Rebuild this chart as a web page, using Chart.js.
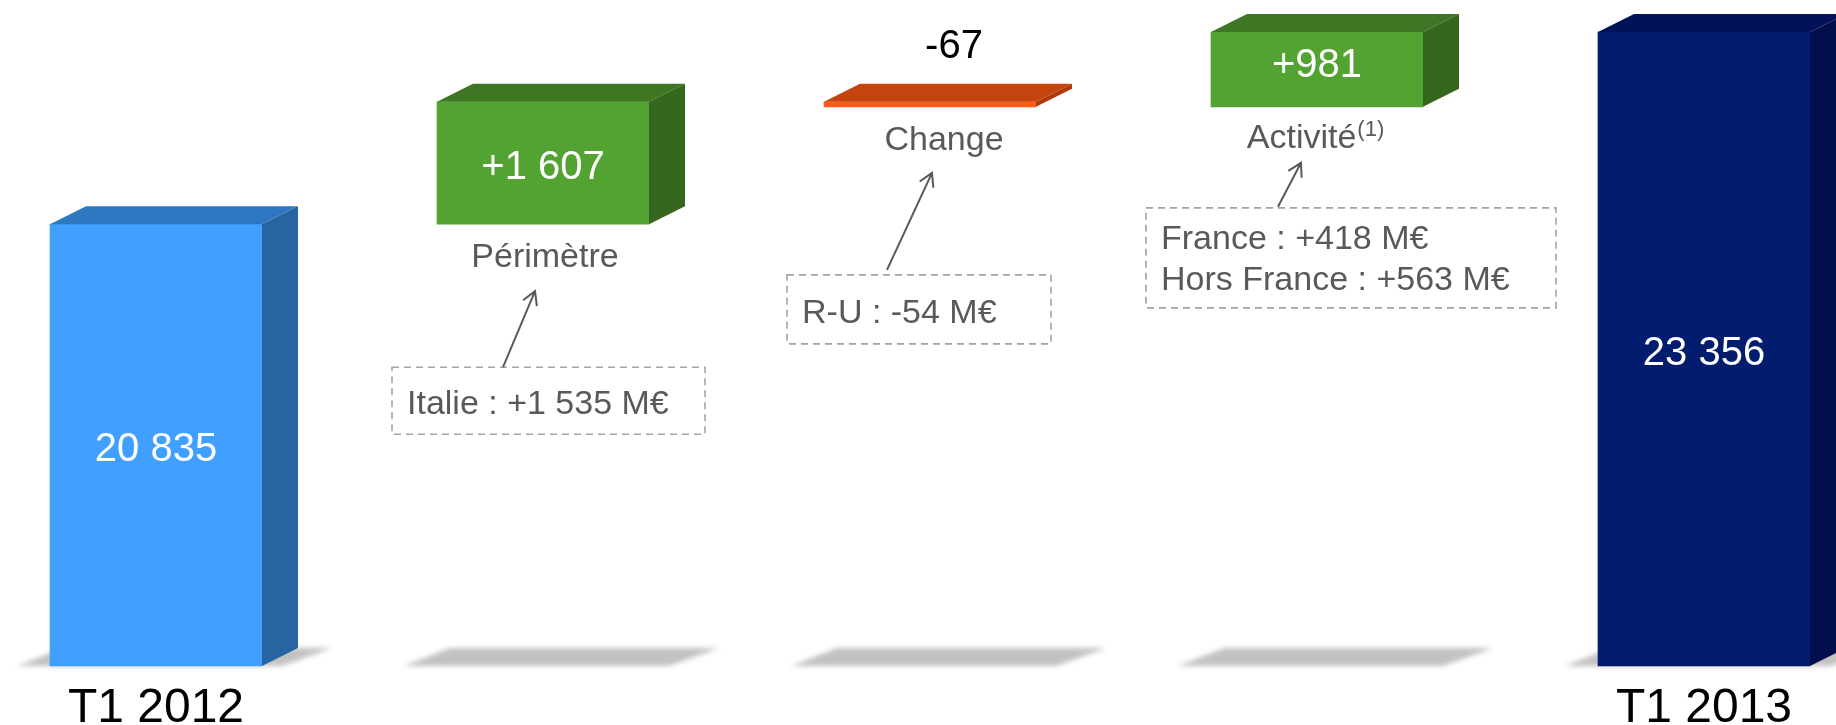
<!DOCTYPE html>
<html><head><meta charset="utf-8">
<script src="https://cdn.jsdelivr.net/npm/chart.js@4"></script>
<style>html,body{margin:0;padding:0;background:#fff;overflow:hidden}#wrap{width:1836px;height:725px;position:relative}</style>
</head><body><div id="wrap"><canvas id="c" width="1836" height="725"></canvas></div>
<script>
// ---- data ----
const categories = ['T1 2012', 'Périmètre', 'Change', 'Activité', 'T1 2013'];
const tickLabels = ['T1 2012', '', '', '', 'T1 2013'];
const startValue = 20835;
const deltas = [1607, -67, 981];
const endValue = 23356;
const subLabels = ['Périmètre', 'Change', 'Activité'];
const subLabelSup = ['', '', '(1)'];
const notes = [['Italie : +1 535 M€'], ['R-U : -54 M€'], ['France : +418 M€', 'Hors France : +563 M€']];
const yMin = 15037, yMax = 23777;

// ---- styles ----
const FONT = '"Liberation Sans", Arial, Helvetica, sans-serif';
const frontColors = ['#409FFF', '#53A333', '#FF5A19', '#53A333', '#021D6E'];
const topColors   = ['#2E78C2', '#3E7624', '#C4440F', '#3E7624', '#01125A'];
const sideColors  = ['#2764A2', '#34661E', '#B03A0C', '#34661E', '#000E4B'];
const DEPTH_X = 36, DEPTH_Y = 18;
const GRAY = '#595959';

// build floating waterfall bars from the arrays
const barData = [startValue];
let running = startValue;
deltas.forEach(d => { barData.push([running, running + d]); running += d; });
barData.push(endValue);

function fmt(n, signed) {
  const s = Math.abs(n).toString().replace(/\B(?=(\d{3})+(?!\d))/g, ' ');
  return (signed ? (n < 0 ? '-' : '+') : (n < 0 ? '-' : '')) + s;
}
const valueLabels = [fmt(startValue)].concat(deltas.map(d => fmt(d, true)), [fmt(endValue)]);

// relative placements (style only)
const valueDy = [2, 2, 0, -6, 2];
const subOffsets = [[2, 43], [14, 43], [-2, 41]];
const noteLayout = [
  {l: -151, r: 162, t: 143, b: 210, ax0: -40, ay0: 143, ax1: -8, ay1: 67, lines: [47]},
  {l: -143, r: 121, t: 168, b: 237, ax0: -43, ay0: 163, ax1: 2, ay1: 66, lines: [48]},
  {l: -171, r: 239, t: 101, b: 201, ax0: -39, ay0: 100, ax1: -16, ay1: 56, lines: [41, 82]}
];

function barGeom(el) {
  const top = Math.min(el.y, el.base), bottom = Math.max(el.y, el.base);
  return {L: el.x - el.width / 2, R: el.x + el.width / 2, cx: el.x, top, bottom};
}

const plugin3d = {
  id: 'waterfall3d',
  beforeDatasetsDraw(chart) {
    const ctx = chart.ctx;
    const meta = chart.getDatasetMeta(0);
    const floor = chart.chartArea.bottom;
    ctx.save();
    ctx.filter = 'blur(2.5px)';
    ctx.fillStyle = '#c2c2c2';
    meta.data.forEach(el => {
      const g = barGeom(el);
      ctx.beginPath();
      ctx.moveTo(g.L - 33, floor);
      ctx.lineTo(g.L + 232, floor);
      ctx.lineTo(g.L + 282, floor - 18);
      ctx.lineTo(g.L + 13, floor - 18);
      ctx.closePath();
      ctx.fill();
    });
    ctx.restore();
  },
  afterDatasetsDraw(chart) {
    const ctx = chart.ctx;
    const meta = chart.getDatasetMeta(0);
    ctx.save();
    meta.data.forEach((el, i) => {
      const g = barGeom(el);
      ctx.fillStyle = topColors[i];
      ctx.beginPath();
      ctx.moveTo(g.L, g.top);
      ctx.lineTo(g.L + DEPTH_X, g.top - DEPTH_Y);
      ctx.lineTo(g.R + DEPTH_X, g.top - DEPTH_Y);
      ctx.lineTo(g.R, g.top);
      ctx.closePath();
      ctx.fill();
      ctx.fillStyle = sideColors[i];
      ctx.beginPath();
      ctx.moveTo(g.R, g.top);
      ctx.lineTo(g.R + DEPTH_X, g.top - DEPTH_Y);
      ctx.lineTo(g.R + DEPTH_X, g.bottom - DEPTH_Y);
      ctx.lineTo(g.R, g.bottom);
      ctx.closePath();
      ctx.fill();
    });

    ctx.textAlign = 'center';
    ctx.textBaseline = 'alphabetic';
    ctx.font = '40px ' + FONT;
    meta.data.forEach((el, i) => {
      const g = barGeom(el);
      const h = g.bottom - g.top;
      if (h > 50) {
        ctx.fillStyle = '#ffffff';
        ctx.fillText(valueLabels[i], g.cx, (g.top + g.bottom) / 2 + 14 + valueDy[i]);
      } else {
        ctx.fillStyle = '#000000';
        ctx.fillText(valueLabels[i], g.cx + 24, g.top - DEPTH_Y - 26);
      }
    });

    for (let k = 0; k < subLabels.length; k++) {
      const g = barGeom(meta.data[k + 1]);
      const [dx, dy] = subOffsets[k];
      const base = g.bottom + dy;
      ctx.fillStyle = GRAY;
      ctx.font = '34px ' + FONT;
      const w1 = ctx.measureText(subLabels[k]).width;
      let w2 = 0;
      if (subLabelSup[k]) {
        ctx.font = '22px ' + FONT;
        w2 = ctx.measureText(subLabelSup[k]).width;
      }
      const x0 = g.cx + dx - (w1 + w2) / 2;
      ctx.textAlign = 'left';
      ctx.font = '34px ' + FONT;
      ctx.fillText(subLabels[k], x0, base);
      if (subLabelSup[k]) {
        ctx.font = '22px ' + FONT;
        ctx.fillText(subLabelSup[k], x0 + w1 + 1, base - 12);
      }
    }

    for (let k = 0; k < notes.length; k++) {
      const g = barGeom(meta.data[k + 1]);
      const n = noteLayout[k];
      const x0 = g.cx + n.l, x1 = g.cx + n.r, y0 = g.bottom + n.t, y1 = g.bottom + n.b;
      ctx.save();
      ctx.strokeStyle = '#a3a3a3';
      ctx.lineWidth = 1.6;
      ctx.setLineDash([7, 5]);
      ctx.strokeRect(x0, y0, x1 - x0, y1 - y0);
      ctx.restore();
      ctx.fillStyle = GRAY;
      ctx.font = '34px ' + FONT;
      ctx.textAlign = 'left';
      notes[k].forEach((line, j) => ctx.fillText(line, x0 + 15, y0 + n.lines[j]));
      const ax0 = g.cx + n.ax0, ay0 = g.bottom + n.ay0, ax1 = g.cx + n.ax1, ay1 = g.bottom + n.ay1;
      ctx.strokeStyle = GRAY;
      ctx.lineWidth = 2;
      ctx.beginPath();
      ctx.moveTo(ax0, ay0);
      ctx.lineTo(ax1, ay1);
      const ang = Math.atan2(ay1 - ay0, ax1 - ax0);
      const len = 15, spread = Math.PI / 6;
      ctx.moveTo(ax1 - len * Math.cos(ang - spread), ay1 - len * Math.sin(ang - spread));
      ctx.lineTo(ax1, ay1);
      ctx.lineTo(ax1 - len * Math.cos(ang + spread), ay1 - len * Math.sin(ang + spread));
      ctx.stroke();
    }
    ctx.restore();
  }
};

new Chart(document.getElementById('c'), {
  type: 'bar',
  data: {
    labels: categories,
    datasets: [{
      data: barData,
      base: yMin,
      backgroundColor: frontColors,
      borderWidth: 0,
      barThickness: 212,
      clip: false
    }]
  },
  options: {
    responsive: false,
    animation: false,
    devicePixelRatio: 1,
    layout: {padding: {left: 156, right: 132, top: 0, bottom: 0}},
    plugins: {legend: {display: false}, tooltip: {enabled: false}},
    scales: {
      x: {
        offset: false,
        grid: {display: false, drawTicks: false},
        border: {display: false},
        afterFit: (scale) => { scale.height = 59; },
        ticks: {
          autoSkip: false, maxRotation: 0, minRotation: 0, padding: 19,
          color: '#000000',
          font: {family: FONT, size: 48, lineHeight: 1},
          callback: (v, i) => tickLabels[i]
        }
      },
      y: {display: false, min: yMin, max: yMax}
    }
  },
  plugins: [plugin3d]
});
</script>
</body></html>
